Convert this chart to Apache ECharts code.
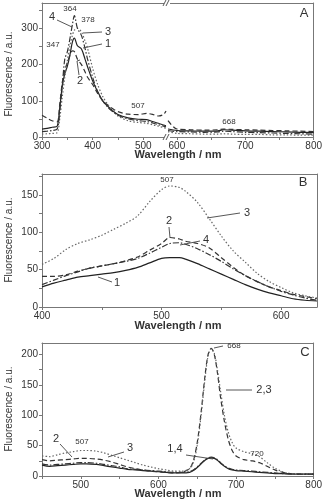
<!DOCTYPE html>
<html><head><meta charset="utf-8">
<script src="https://cdn.jsdelivr.net/npm/echarts@6/dist/echarts.min.js"></script>
<style>html,body{margin:0;padding:0;background:#fff}#c{width:325px;height:500px}</style>
</head><body><div id="c"></div>
<script>
// ---------- Panel A (broken wavelength axis) ----------
const A_WL_LEFT = [300,310,320,330,335,340,345,350,355,360,364,370,378,385,390,400,410,420,430,440,450,470,490,507,520,530,540,545];
const A1_LEFT = [22,24,27,30,80,140,175,195,225,262,273,252,243,215,194,155,125,100,85,72,62,53,49,48,42,38,33,31];
const A2_LEFT = [60,52,45,42,90,150,185,205,225,238,236,215,200,180,165,145,120,100,88,78,70,63,62,65,62,58,62,72];
const A3_LEFT = [8,9,10,12,50,110,165,210,250,280,295,300,290,265,245,190,145,112,90,72,58,45,40,38,33,30,26,24];
const A4_LEFT = [15,16,18,22,70,140,215,235,270,310,335,300,280,245,215,165,125,100,82,70,60,50,45,43,38,34,30,28];
const A_WL_RIGHT = [587,600,620,640,660,668,680,700,720,740,760,780,800];
const A1_RIGHT = [22,18,17,16,17,20,19,17,16,15,14,13,12];
const A2_RIGHT = [45,22,20,19,20,22,21,20,19,18,17,16,15];
const A3_RIGHT = [15,10,9,8,8,9,8,7,7,6,6,5,5];
const A4_RIGHT = [18,15,14,13,14,16,15,13,12,11,10,9,8];
const A_X_TICKS_LEFT = [300,400,500];
const A_X_TICKS_RIGHT = [600,700,800];
const A_Y_TICKS = [0,100,200,300];

// ---------- Panel B ----------
const B_WL = [400,410,420,430,440,450,460,470,480,490,500,507,515,520,530,540,550,560,570,580,590,600,610,620,630];
const B1 = [27,32,36,40,42,44,46,49,53,59,65,66,66,64,58,51,44,37,30,24,19,15,11,9,8];
const B2 = [41,41,43,48,52,55,58,62,67,76,85,93,91,88,85,79,66,53,42,34,27,22,17,14,11];
const B3 = [57,65,77,85,90,96,104,112,122,141,157,162,160,155,140,118,95,75,60,45,34,26,19,15,12];
const B4 = [30,36,42,47,52,55,58,61,65,72,80,85,86,84,78,70,61,51,42,34,27,21,16,12,9];
const B_X_TICKS = [400,500,600];
const B_Y_TICKS = [0,50,100,150];

// ---------- Panel C ----------
const C_WL = [450,460,470,480,490,500,507,520,530,540,550,560,570,580,590,600,610,620,630,640,645,650,655,660,664,668,672,676,680,685,690,695,700,710,720,730,740,750,760,770,780,790,800];
const C1 = [18,16,17,18,19,20,20,19,17,15,13,11,10,9,8,7,6,5,5,6,9,14,20,26,29,30,29,26,21,16,12,10,9,8,7,6,5,4,4,3,3,3,3];
const C2 = [27,25,26,27,28,29,29,28,26,23,19,15,12,10,8,7,6,5,6,12,25,55,105,165,200,210,200,170,130,90,60,42,33,27,25,22,16,10,6,4,3,3,3];
const C3 = [33,32,35,38,40,42,42,41,38,34,30,26,22,18,15,12,10,8,8,12,22,50,100,160,198,210,202,175,140,100,72,55,46,40,37,32,22,13,7,4,3,3,3];
const C4 = [20,18,19,20,21,22,22,21,19,17,15,12,11,10,9,8,7,6,6,7,10,15,21,27,30,31,30,27,22,17,13,11,10,9,8,7,6,5,4,4,3,3,3];
const C_X_TICKS = [500,600,700,800];
const C_Y_TICKS = [0,50,100,150,200];

const zip = (xs, ys) => xs.map((x, i) => [x, ys[i]]);
const FONT = 'Liberation Sans, Arial, sans-serif';
const AX = '#777';
const STYLES = [
  {color:'#222', type:'solid', width:1.2},
  {color:'#333', type:[5,3], width:1.2},
  {color:'#666', type:[1.5,2], width:1.2},
  {color:'#333', type:[6,2,1.5,2], width:1.2}
];
function half(t){ const o=[]; for(let i=0;i<t.length;i++){o.push(t[i]); if(i<t.length-1) o.push((t[i]+t[i+1])/2);} return o; }

function xBottom(g, min, max, ticks, extraTicks){
  return {type:'value', gridIndex:g, position:'bottom', min, max,
    axisLine:{show:true, onZero:false, lineStyle:{color:AX, width:1}},
    axisTick:{show:true, inside:false, length:3, lineStyle:{color:AX}, customValues: extraTicks || half(ticks)},
    axisLabel:{show:true, customValues:ticks, color:'#333', fontSize:10, fontFamily:FONT, margin:4},
    splitLine:{show:false}};
}
function xTop(g, min, max){
  return {type:'value', gridIndex:g, position:'top', min, max,
    axisLine:{show:true, onZero:false, lineStyle:{color:AX, width:1}},
    axisTick:{show:false}, axisLabel:{show:false}, splitLine:{show:false}};
}
function yLeft(g, min, max, ticks, extraTicks){
  return {type:'value', gridIndex:g, position:'left', min, max,
    axisLine:{show:true, onZero:false, lineStyle:{color:AX, width:1}},
    axisTick:{show:true, inside:false, length:3, lineStyle:{color:AX}, customValues: extraTicks || half(ticks)},
    axisLabel:{show:true, customValues:ticks, color:'#333', fontSize:10, fontFamily:FONT, margin:4},
    splitLine:{show:false}};
}
function yRight(g, min, max){
  return {type:'value', gridIndex:g, position:'right', min, max,
    axisLine:{show:true, onZero:false, lineStyle:{color:AX, width:1}},
    axisTick:{show:false}, axisLabel:{show:false}, splitLine:{show:false}};
}
function yHidden(g, min, max){
  return {type:'value', gridIndex:g, min, max, show:false};
}

const xAxis = [
  xBottom(0, 300, 545, A_X_TICKS_LEFT, [300,350,400,450,500]),   // 0
  xTop(0, 300, 545),                                             // 1
  xBottom(1, 587, 800, A_X_TICKS_RIGHT, [600,650,700,750,800]),  // 2
  xTop(1, 587, 800),                                             // 3
  xBottom(2, 400, 630, B_X_TICKS, [400,450,500,550,600]),        // 4
  xTop(2, 400, 630),                                             // 5
  xBottom(3, 450, 800, C_X_TICKS, [450,500,550,600,650,700,750,800]), // 6
  xTop(3, 450, 800)                                              // 7
];
const yAxis = [
  yLeft(0, 0, 370, A_Y_TICKS, [0,50,100,150,200,250,300,350]), // 0
  yHidden(1, 0, 370),                                          // 1
  yRight(1, 0, 370),                                           // 2
  yLeft(2, 0, 178, B_Y_TICKS, [0,25,50,75,100,125,150,175]),   // 3
  yRight(2, 0, 178),                                           // 4
  yLeft(3, 0, 219, C_Y_TICKS, [0,25,50,75,100,125,150,175,200]), // 5
  yRight(3, 0, 219)                                            // 6
];

function line(data, si, xi, yi){
  const s = STYLES[si];
  return {type:'line', data, xAxisIndex:xi, yAxisIndex:yi, showSymbol:false, smooth:0.3,
    lineStyle:{color:s.color, type:s.type, width:s.width}, silent:true, animation:false, z: 3};
}
const series = [
  line(zip(A_WL_LEFT,A1_LEFT),0,0,0), line(zip(A_WL_LEFT,A2_LEFT),1,0,0),
  line(zip(A_WL_LEFT,A3_LEFT),2,0,0), line(zip(A_WL_LEFT,A4_LEFT),3,0,0),
  line(zip(A_WL_RIGHT,A1_RIGHT),0,2,1), line(zip(A_WL_RIGHT,A2_RIGHT),1,2,1),
  line(zip(A_WL_RIGHT,A3_RIGHT),2,2,1), line(zip(A_WL_RIGHT,A4_RIGHT),3,2,1),
  line(zip(B_WL,B1),0,4,3), line(zip(B_WL,B2),1,4,3), line(zip(B_WL,B3),2,4,3), line(zip(B_WL,B4),3,4,3),
  line(zip(C_WL,C1),0,6,5), line(zip(C_WL,C2),1,6,5), line(zip(C_WL,C3),2,6,5), line(zip(C_WL,C4),3,6,5)
];

function txt(x, y, s, size, opt){
  return Object.assign({type:'text', x, y, silent:true, z:10,
    style:{text:s, fontSize:size, fontFamily:FONT, fill:'#333', align:'center', verticalAlign:'middle'}}, opt||{});
}
function ln(x1,y1,x2,y2){
  return {type:'line', silent:true, z:10, shape:{x1,y1,x2,y2}, style:{stroke:'#444', lineWidth:0.9}};
}
function brk(x, y){
  return [
    {type:'rect', silent:true, z:9, shape:{x:x-3, y:y-3, width:6, height:6}, style:{fill:'#fff'}},
    ln(x-4, y+3, x-1, y-3), ln(x-1, y+3, x+2, y-3)
  ];
}
function yName(cy){
  return {type:'text', x:9, y:cy, rotation:Math.PI/2, silent:true, z:10,
    style:{text:'Fluorescence / a.u.', fontSize:10, fontFamily:FONT, fill:'#333', align:'center', verticalAlign:'middle'}};
}
function xName(cy){
  return txt(178, cy, 'Wavelength / nm', 11, {style:{text:'Wavelength / nm', fontSize:11, fontFamily:FONT, fill:'#333', align:'center', verticalAlign:'middle', fontWeight:'bold'}});
}

const graphic = [
  ...brk(167, 3), ...brk(167, 137),
  yName(74), yName(240), yName(409),
  xName(155), xName(326), xName(494),
  // panel letters
  txt(304, 13, 'A', 13), txt(303, 182, 'B', 13), txt(305, 352, 'C', 13),
  // panel A annotations
  txt(70, 9, '364', 8), txt(88, 20, '378', 8), txt(53, 45, '347', 8), txt(138, 106, '507', 8), txt(229, 122, '668', 8),
  txt(52, 17, '4', 11), ln(57, 20, 72, 27),
  txt(108, 32, '3', 11), ln(83, 33, 102, 32),
  txt(108, 44, '1', 11), ln(83, 48, 102, 44),
  txt(80, 81, '2', 11), ln(79, 75, 77, 61), ln(77, 61, 80, 60),
  // panel B annotations
  txt(167, 180, '507', 8),
  txt(247, 213, '3', 11), ln(207, 218, 240, 213),
  txt(169, 221, '2', 11), ln(169, 227, 170, 238),
  txt(206, 240, '4', 11), ln(180, 245, 200, 241),
  txt(117, 283, '1', 11), ln(98, 277, 112, 282),
  // panel C annotations
  txt(234, 346, '668', 8), ln(214, 348, 223, 346),
  txt(264, 390, '2,3', 11), ln(226, 390, 252, 390),
  txt(257, 454, '720', 8),
  txt(175, 449, '1,4', 11), ln(186, 455, 213, 459),
  txt(56, 439, '2', 11), ln(60, 444, 72, 457),
  txt(82, 442, '507', 8),
  txt(130, 448, '3', 11), ln(124, 452, 108, 457)
];

const chart = echarts.init(document.getElementById('c'), null, {renderer:'canvas'});
chart.setOption({
  animation:false,
  backgroundColor:'#fff',
  grid:[
    {left:42, top:3, width:124, height:134},
    {left:168, top:3, width:147, height:134},
    {left:42, top:174, width:275, height:133},
    {left:42, top:343, width:274, height:133}
  ],
  xAxis, yAxis, series, graphic
});
</script></body></html>
